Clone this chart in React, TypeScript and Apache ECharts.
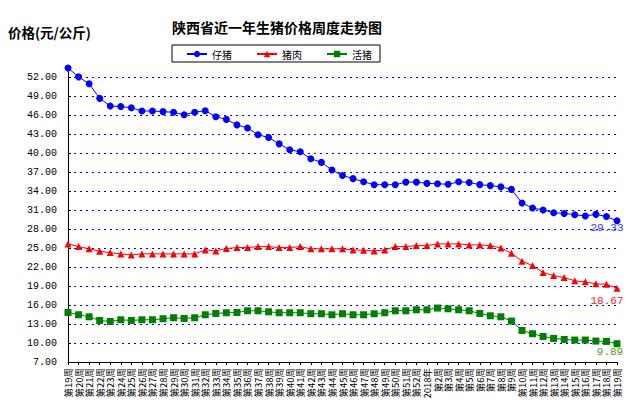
import React, { useEffect, useRef } from 'react';
import * as echarts from 'echarts';

const categories = [
  '第19周', '第20周', '第21周', '第22周', '第23周', '第24周', '第25周', '第26周', '第27周', '第28周',
  '第29周', '第30周', '第31周', '第32周', '第33周', '第34周', '第35周', '第36周', '第37周', '第38周',
  '第39周', '第40周', '第41周', '第42周', '第43周', '第44周', '第45周', '第46周', '第47周', '第48周',
  '第49周', '第50周', '第51周', '第52周', '2018年', '第2周', '第3周', '第4周', '第5周', '第6周',
  '第7周', '第8周', '第9周', '第10周', '第11周', '第12周', '第13周', '第14周', '第15周', '第16周',
  '第17周', '第18周', '第19周',
];

const piglet = [
  53.5, 52.1, 51.0, 48.7, 47.5, 47.4, 47.2, 46.7, 46.7, 46.6,
  46.5, 46.1, 46.5, 46.75, 45.8, 45.37, 44.5, 44.0, 42.95, 42.5,
  41.5, 40.57, 40.25, 39.15, 38.57, 37.36, 36.5, 36.0, 35.5, 35.04,
  35.04, 35.04, 35.45, 35.45, 35.25, 35.2, 35.1, 35.5, 35.4, 35.05,
  34.9, 34.7, 34.3, 32.15, 31.35, 31.05, 30.6, 30.5, 30.3, 30.1,
  30.35, 30.0, 29.33,
];

const pork = [
  25.68, 25.26, 24.9, 24.53, 24.3, 24.1, 23.94, 24.1, 24.1, 24.1,
  24.1, 24.1, 24.1, 24.73, 24.57, 24.94, 25.1, 25.1, 25.25, 25.25,
  25.1, 25.1, 25.25, 24.9, 24.9, 24.9, 24.9, 24.73, 24.68, 24.57,
  24.73, 25.25, 25.25, 25.41, 25.41, 25.68, 25.68, 25.68, 25.52, 25.52,
  25.41, 25.05, 24.2, 22.95, 22.25, 21.15, 20.67, 20.36, 19.84, 19.68,
  19.36, 19.3, 18.67,
];

const hog = [
  14.83, 14.47, 14.15, 13.57, 13.41, 13.68, 13.57, 13.68, 13.68, 13.84,
  14.0, 13.89, 14.0, 14.47, 14.68, 14.79, 14.83, 15.1, 15.1, 14.94,
  14.79, 14.79, 14.79, 14.63, 14.63, 14.47, 14.63, 14.47, 14.47, 14.63,
  14.79, 15.1, 15.1, 15.26, 15.26, 15.53, 15.42, 15.26, 15.1, 14.68,
  14.31, 14.15, 13.47, 11.99, 11.47, 11.04, 10.73, 10.57, 10.47, 10.47,
  10.31, 10.25, 9.89,
];

const seriesNames = ['仔猪', '猪肉', '活猪'];
const titleText = '陕西省近一年生猪价格周度走势图';
const yAxisTitle = '价格(元/公斤)';
const Y_MIN = 7;
const Y_MAX = 53.5;
const Y_STEP = 3;

const CJK = '"Noto Sans CJK SC", "Noto Sans", sans-serif';
const MONO = '"Liberation Mono", "DejaVu Sans Mono", monospace';

export default function App() {
  const ref = useRef<HTMLDivElement>(null);

  useEffect(() => {
    if (!ref.current) return;
    const chart = echarts.init(ref.current, undefined, { renderer: 'svg' });
    const last = categories.length - 1;

    const endLabel = (color: string, offset: number[]) => ({
      show: true,
      position: 'bottom',
      distance: 0,
      offset,
      color,
      fontFamily: MONO,
      fontSize: 11,
      formatter: (p: any) => (p.dataIndex === last ? Number(p.value).toFixed(2) : ''),
    });

    const mk = (name: string, data: number[], color: string, symbol: string, labelColor: string, offset: number[]) => ({
      name,
      type: 'line',
      data,
      symbol,
      symbolSize: 7,
      showAllSymbol: true,
      clip: false,
      itemStyle: { color },
      lineStyle: { color, width: 1 },
      label: endLabel(labelColor, offset),
      emphasis: { disabled: true },
    });

    chart.setOption({
      animation: false,
      backgroundColor: '#ffffff',
      graphic: [
        {
          type: 'text',
          left: 172,
          top: 20,
          style: { text: titleText, font: `bold 14px ${CJK}`, fill: '#000' },
        },
        {
          type: 'text',
          left: 8,
          top: 25,
          style: { text: yAxisTitle, font: `bold 13.5px ${CJK}`, fill: '#000' },
        },
      ],
      legend: {
        left: 172,
        top: 45,
        padding: [4, 8, 3, 14],
        itemGap: 24,
        itemWidth: 20,
        itemHeight: 8,
        borderColor: '#000',
        borderWidth: 1,
        textStyle: { fontFamily: CJK, fontSize: 10, color: '#000' },
        data: seriesNames,
      },
      grid: { left: 68, right: 15, top: 68, bottom: 48, containLabel: false },
      xAxis: {
        type: 'category',
        data: categories,
        boundaryGap: false,
        axisLine: { lineStyle: { color: '#000', width: 1 } },
        axisTick: { show: true, length: 3, interval: 0, lineStyle: { color: '#000' } },
        axisLabel: {
          interval: 0,
          rotate: 90,
          margin: 6,
          fontSize: 9.5,
          fontFamily: CJK,
          color: '#000',
        },
        splitLine: { show: false },
      },
      yAxis: {
        type: 'value',
        min: Y_MIN,
        max: Y_MAX,
        interval: Y_STEP,
        axisLine: { show: true, lineStyle: { color: '#000', width: 1 } },
        axisTick: { show: true, inside: true, length: 3, lineStyle: { color: '#000' } },
        axisLabel: {
          showMaxLabel: false,
          margin: 11,
          fontFamily: MONO,
          fontSize: 10,
          color: '#000',
          formatter: (v: number) => v.toFixed(2),
        },
        splitLine: {
          show: true,
          showMinLine: false,
          showMaxLine: false,
          lineStyle: { color: '#0000ff', width: 1, type: [2, 4] },
        },
      },
      series: [
        mk(seriesNames[0], piglet, '#0000ff', 'circle', '#3333ff', [-10, -1.5]),
        mk(seriesNames[1], pork, '#ff0000', 'triangle', '#ff2222', [-10, 4]),
        mk(seriesNames[2], hog, '#008000', 'rect', '#5a9a20', [-7, -0.5]),
      ],
    });

    return () => chart.dispose();
  }, []);

  return (
    <div
      ref={ref}
      style={{ position: 'fixed', left: 0, top: 0, width: 632, height: 410, background: '#fff' }}
    />
  );
}
